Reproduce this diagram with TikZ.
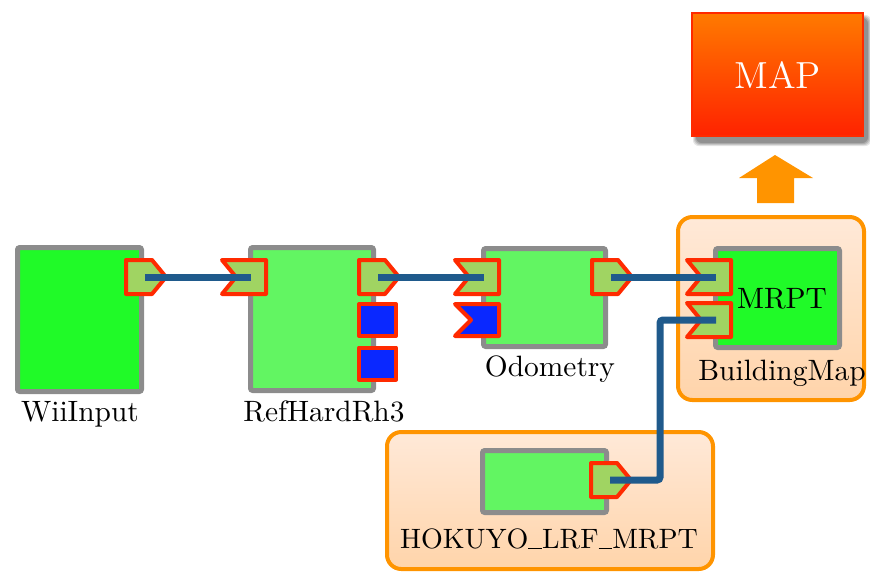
\documentclass[tikz,border=0pt]{standalone}
\usepackage{tikz}
\definecolor{boxgray}{HTML}{8C8C8C}
\definecolor{brightgreen}{HTML}{20FA28}
\definecolor{lightgreen}{HTML}{62F562}
\definecolor{portfill}{HTML}{A0D462}
\definecolor{portred}{HTML}{FF2A00}
\definecolor{portblue}{HTML}{0A28FF}
\definecolor{wire}{HTML}{1F5A8C}
\definecolor{grouporange}{HTML}{FF9400}
\definecolor{grouptop}{HTML}{FFE9D8}
\definecolor{groupbottom}{HTML}{FFD4AA}
\definecolor{maptop}{HTML}{FF7A00}
\definecolor{mapbottom}{HTML}{FF2200}
\newcommand\myusc{\rule[-0.5pt]{4.8pt}{0.45pt}}
\begin{document}
\begin{tikzpicture}[x=0.35pt,y=-0.35pt,
  compbox/.style={draw=boxgray,line width=1.75pt,rounded corners=0.8pt},
  portline/.style={draw=portred,line width=1.4pt,line join=round},
  wireline/.style={draw=wire,line width=2.45pt},
  groupbox/.style={draw=grouporange,line width=1.4pt,rounded corners=5pt,top color=grouptop,bottom color=groupbottom},
  lbl/.style={anchor=base,inner sep=0pt,font=\fontsize{10.3}{12}\selectfont},
  outport/.pic={
    \draw[portline,fill=portfill] (0,-17) -- (26,-17) -- (40,0) -- (26,17) -- (0,17) -- cycle;
    \coordinate (-c) at (19,0);
  },
  inport/.pic={
    \draw[portline,fill=portfill] (0,-17) -- (44,-17) -- (44,17) -- (0,17) -- (14,0) -- cycle;
    \coordinate (-c) at (29,0);
  },
  blueinport/.pic={
    \draw[portline,fill=portblue] (0,-16) -- (44,-16) -- (44,16) -- (0,16) -- (16,0) -- cycle;
  },
  blueport/.pic={
    \draw[portline,fill=portblue] (0,-16) rectangle (37,16);
  }
]
\useasboundingbox (0,0) rectangle (870,572);

% groups
\draw[groupbox] (678,217) rectangle (864,400);
\draw[groupbox] (387,432) rectangle (713,569);

% MAP box with shadow
\foreach \i/\o in {0/0.10,1/0.12,2/0.14,3/0.16}{
  \fill[black,opacity=\o,rounded corners=2pt] (691+2+\i,12+3+\i) rectangle (862+9-\i,135+11-\i);
}
\node[draw=portred,line width=0.8pt,top color=maptop,bottom color=mapbottom,
  minimum width=59.85pt,minimum height=43.05pt,inner sep=0pt,anchor=north west,
  text=white,font=\fontsize{13.2}{15}\selectfont] (map) at (691,12) {MAP};

% up arrow
\fill[grouporange] (775,155) -- (813,178) -- (794,178) -- (794,203) -- (757,203) -- (757,178) -- (739,178) -- cycle;

% component boxes
\draw[compbox,fill=brightgreen] (17.5,247.5) rectangle (141.5,391.5);
\draw[compbox,fill=lightgreen] (250.5,247.5) rectangle (373.5,390.5);
\draw[compbox,fill=lightgreen] (483.5,248.5) rectangle (605.5,346.5);
\draw[compbox,fill=brightgreen] (715.5,248.5) rectangle (839.5,347.5);
\draw[compbox,fill=lightgreen] (482.5,450.5) rectangle (606.5,512.5);

% ports
\pic (wiiout) at (126,277) {outport};
\pic (refin) at (222,277) {inport};
\pic (refout) at (359,277) {outport};
\pic (refb1) at (359,320) {blueport};
\pic (refb2) at (359,363.5) {blueport};
\pic (odoin) at (455,277) {inport};
\pic (odob) at (455,320) {blueinport};
\pic (odoout) at (592,277) {outport};
\pic (mrptin1) at (687,277) {inport};
\pic (mrptin2) at (687,320) {inport};
\pic (hokout) at (591,480) {outport};

% connectors
\coordinate (bend) at (660,400);
\draw[wireline] (wiiout-c) -- (refin-c);
\draw[wireline] (refout-c) -- (odoin-c);
\draw[wireline] (odoout-c) -- (mrptin1-c);
\draw[wireline,rounded corners=1pt] (hokout-c) -| (bend) |- (mrptin2-c);

% labels
\node[lbl] (wiilabel) at (80,421) {WiiInput};
\node[lbl] (reflabel) at (324,421) {RefHardRh3};
\node[lbl] (odolabel) at (550,376) {Odometry};
\node[lbl] (mrptlabel) at (782,308) {MRPT};
\node[lbl] (bmlabel) at (782,380) {BuildingMap};
\node[lbl,font=\fontsize{9.8}{12}\selectfont] (hoklabel) at (549,548) {HOKUYO\myusc LRF\myusc MRPT};
\end{tikzpicture}
\end{document}
